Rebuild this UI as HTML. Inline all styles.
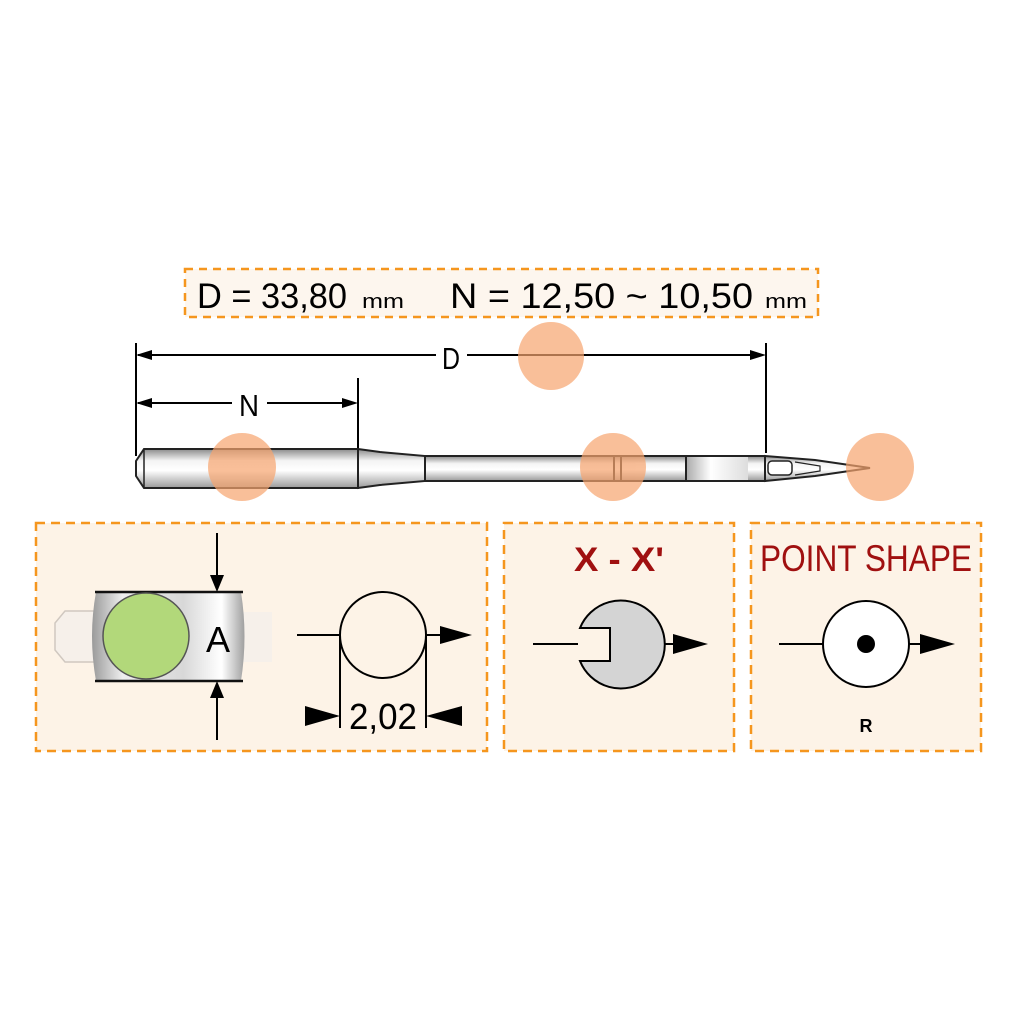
<!DOCTYPE html>
<html><head><meta charset="utf-8"><style>
html,body{margin:0;padding:0;background:#fff;}
svg{display:block;}
text{font-family:"Liberation Sans",sans-serif;}
</style></head><body>
<svg width="1024" height="1024" viewBox="0 0 1024 1024" xmlns="http://www.w3.org/2000/svg">
<defs>
<linearGradient id="metal" x1="0" y1="0" x2="0" y2="1">
<stop offset="0" stop-color="#8a8a8a"/><stop offset="0.3" stop-color="#f4f4f4"/><stop offset="0.55" stop-color="#ffffff"/><stop offset="1" stop-color="#9a9a9a"/>
</linearGradient>
<linearGradient id="groove" x1="0" y1="0" x2="1" y2="0">
<stop offset="0" stop-color="#aaa"/><stop offset="0.4" stop-color="#fff"/><stop offset="1" stop-color="#ddd"/>
</linearGradient>
<linearGradient id="cyl" x1="0" y1="0" x2="1" y2="0">
<stop offset="0" stop-color="#9a9a9a"/><stop offset="0.2" stop-color="#eeeeee"/><stop offset="0.6" stop-color="#d8d8d8"/><stop offset="0.85" stop-color="#ffffff"/><stop offset="1" stop-color="#a0a0a0"/>
</linearGradient>
</defs>
<rect width="1024" height="1024" fill="#fff"/>
<rect x="185" y="269" width="633" height="48" fill="#fdf6ee" stroke="#f5961e" stroke-width="2.5" stroke-dasharray="8,6"/>
<text x="197" y="308" font-size="35" textLength="150" lengthAdjust="spacingAndGlyphs">D = 33,80</text>
<text x="362" y="308" font-size="20" textLength="42" lengthAdjust="spacingAndGlyphs">mm</text>
<text x="450" y="308" font-size="35" textLength="303" lengthAdjust="spacingAndGlyphs">N =  12,50 ~ 10,50</text>
<text x="765" y="308" font-size="20" textLength="42" lengthAdjust="spacingAndGlyphs">mm</text>
<g stroke="#000" stroke-width="2" fill="none">
<line x1="136" y1="343" x2="136" y2="456"/>
<line x1="358" y1="378" x2="358" y2="448"/>
<line x1="766" y1="343" x2="766" y2="453"/>
<line x1="138" y1="355" x2="436" y2="355"/>
<line x1="467" y1="355" x2="760" y2="355"/>
<line x1="138" y1="403" x2="232" y2="403"/>
<line x1="267" y1="403" x2="352" y2="403"/>
</g>
<g fill="#000">
<polygon points="136,355 152,350 152,360"/>
<polygon points="766,355 750,350 750,360"/>
<polygon points="136,403 152,398 152,408"/>
<polygon points="358,403 342,398 342,408"/>
</g>
<text x="451" y="369" font-size="31" text-anchor="middle" textLength="18" lengthAdjust="spacingAndGlyphs">D</text>
<text x="249" y="416" font-size="31" text-anchor="middle" textLength="20" lengthAdjust="spacingAndGlyphs">N</text>
<g stroke="#222" stroke-width="2">
<path d="M144,449 L358,449 L358,488 L144,488 L136,476 L136,461 Z" fill="url(#metal)"/>
<path d="M358,449 L380,452 L425,456 L425,481 L380,485 L358,488 Z" fill="url(#metal)"/>
<rect x="425" y="456" width="340" height="25" fill="url(#metal)"/>
<rect x="686" y="456" width="62" height="25" fill="url(#groove)" stroke="none"/>
<path d="M765,456 L815,460 L870,468 L815,476 L765,481 Z" fill="url(#metal)"/>
<line x1="614" y1="456" x2="614" y2="481"/>
<line x1="621" y1="456" x2="621" y2="481"/>
<line x1="686" y1="456" x2="686" y2="481"/>
<line x1="425" y1="456" x2="765" y2="456"/>
<line x1="425" y1="481" x2="765" y2="481"/>
<rect x="768" y="461" width="24" height="14" rx="4" fill="#fff" stroke-width="1.5"/>
<path d="M795,462 L820,466 L820,471 L795,475" fill="none" stroke-width="1.2"/>
</g>
<line x1="144" y1="449" x2="144" y2="488" stroke="#222" stroke-width="1.5"/>
<g fill="#f7a46e" opacity="0.7">
<ellipse cx="551" cy="356" rx="33" ry="34"/>
<ellipse cx="242" cy="467" rx="34" ry="34"/>
<ellipse cx="613" cy="467" rx="33" ry="34"/>
<ellipse cx="880" cy="467" rx="34" ry="34"/>
</g>
<g fill="#fdf3e7" stroke="#f5961e" stroke-width="2.5" stroke-dasharray="9,6">
<rect x="36" y="523" width="451" height="228"/>
<rect x="504" y="523" width="230" height="228"/>
<rect x="751" y="523" width="230" height="228"/>
</g>
<path d="M65,611 L95,611 L95,662 L65,662 L55,650 L55,623 Z" fill="#f6f0ea" stroke="#d0c8c0" stroke-width="1.5"/>
<rect x="240" y="612" width="32" height="50" fill="#f6f0ea"/>
<path d="M96,592 L241,592 Q248,636 241,681 L96,681 Q88,636 96,592 Z" fill="url(#cyl)"/>
<line x1="95" y1="592" x2="243" y2="592" stroke="#111" stroke-width="2.5"/>
<line x1="95" y1="681" x2="243" y2="681" stroke="#111" stroke-width="2.5"/>
<circle cx="146" cy="636" r="43" fill="#b2d87a" stroke="#555" stroke-width="1.5"/>
<text x="218" y="652" font-size="36" text-anchor="middle">A</text>
<g stroke="#000" stroke-width="2">
<line x1="217" y1="533" x2="217" y2="580"/>
<line x1="217" y1="694" x2="217" y2="740"/>
<line x1="297" y1="635" x2="340" y2="635"/>
<line x1="426" y1="635" x2="440" y2="635"/>
<line x1="340" y1="635" x2="340" y2="728"/>
<line x1="426" y1="635" x2="426" y2="728"/>
</g>
<g fill="#000">
<polygon points="217,592 210,575 224,575"/>
<polygon points="217,681 210,698 224,698"/>
<polygon points="472,635 440,626 440,644"/>
<polygon points="340,716 305,706 305,726"/>
<polygon points="426,716 462,706 462,726"/>
</g>
<circle cx="383" cy="635" r="43" fill="#fdf3e7" stroke="#000" stroke-width="2"/>
<text x="383" y="729" font-size="36" text-anchor="middle" textLength="68" lengthAdjust="spacingAndGlyphs">2,02</text>
<text x="619" y="571" font-size="34" font-weight="bold" fill="#a01010" text-anchor="middle" textLength="90" lengthAdjust="spacingAndGlyphs">X - X'</text>
<path d="M580,628 A44,44 0 1,1 580,661 L610,661 L610,628 Z" fill="#d4d4d4" stroke="#000" stroke-width="2"/>
<line x1="533" y1="644" x2="578" y2="644" stroke="#000" stroke-width="2"/>
<line x1="665" y1="644" x2="675" y2="644" stroke="#000" stroke-width="2"/>
<polygon points="708,644 673,634 673,654" fill="#000"/>
<text x="866" y="571" font-size="37" fill="#a01010" text-anchor="middle" textLength="212" lengthAdjust="spacingAndGlyphs">POINT SHAPE</text>
<circle cx="866" cy="644" r="43" fill="#fff" stroke="#000" stroke-width="2"/>
<circle cx="866" cy="644" r="9" fill="#000"/>
<line x1="779" y1="644" x2="823" y2="644" stroke="#000" stroke-width="2"/>
<line x1="909" y1="644" x2="922" y2="644" stroke="#000" stroke-width="2"/>
<polygon points="955,644 920,634 920,654" fill="#000"/>
<text x="866" y="732" font-size="18" font-weight="bold" text-anchor="middle">R</text>
</svg>
</body></html>
